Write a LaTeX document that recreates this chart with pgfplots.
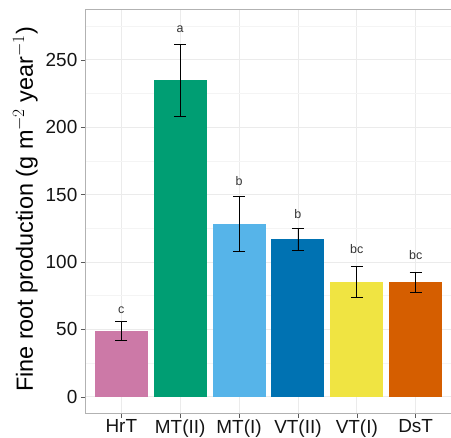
\documentclass[border=0pt]{standalone}
\usepackage{fontspec}
\setmainfont{Liberation Sans}
\usepackage{pgfplots}
\pgfplotsset{compat=1.18}
\definecolor{cHrT}{HTML}{CC79A7}
\definecolor{cMTII}{HTML}{009E73}
\definecolor{cMTI}{HTML}{56B4E9}
\definecolor{cVTII}{HTML}{0072B2}
\definecolor{cVTI}{HTML}{F0E442}
\definecolor{cDsT}{HTML}{D55E00}
\definecolor{gridmaj}{HTML}{EBEBEB}
\definecolor{gridmin}{HTML}{F4F4F4}
\begin{document}
\begin{tikzpicture}
\begin{axis}[
  at={(0,0)}, anchor=south west,
  scale only axis, width=365bp, height=403bp,
  xmin=0.4, xmax=6.6, ymin=-12, ymax=287,
  xtick={1,2,3,4,5,6},
  xticklabels={HrT,MT(II),MT(I),VT(II),VT(I),DsT},
  ytick={0,50,100,150,200,250},
  minor ytick={25,75,125,175,225,275},
  xtick pos=bottom, ytick pos=left,
  grid=both,
  major grid style={gridmaj, line width=0.8bp},
  minor grid style={gridmin, line width=0.6bp},
  tick align=outside,
  major tick length=5bp,
  minor tick length=0pt,
  tick style={gray!70!black, line width=0.6bp},
  axis line style={gray!60, line width=1bp},
  /pgf/number format/assume math mode=true,
  tick label style={font=\fontsize{19}{22}\selectfont, text=black!92},
  yticklabel style={inner xsep=3.5bp},
  xticklabel style={inner ysep=1.5bp},
  ylabel={Fine root production (g m$^{-2}$ year$^{-1}$)},
  ylabel style={at={(axis description cs:0,0.5)}, anchor=base, yshift=53bp, xshift=2bp,
    font=\fontsize{23.5}{26}\selectfont, text=black},
  ybar, bar shift=0pt, bar width=0.9,
  error bars/y dir=both, error bars/y explicit,
  error bars/error mark options={rotate=90, mark size=6bp, line width=0.8bp, black},
  error bars/error bar style={line width=0.8bp, black},
]
\addplot[fill=cHrT, draw=none] coordinates {(1,48.7) +- (0,7.0)};
\addplot[fill=cMTII, draw=none] coordinates {(2,234.7) +- (0,26.8)};
\addplot[fill=cMTI, draw=none] coordinates {(3,128.3) +- (0,20.5)};
\addplot[fill=cVTII, draw=none] coordinates {(4,116.8) +- (0,8.3)};
\addplot[fill=cVTI, draw=none] coordinates {(5,85.3) +- (0,11.8)};
\addplot[fill=cDsT, draw=none] coordinates {(6,84.9) +- (0,7.5)};
\addplot[draw=none, mark=none, sharp plot, nodes near coords, point meta=explicit symbolic,
  every node near coord/.style={anchor=center, font=\fontsize{12.5}{14}\selectfont, text=black!80}]
  coordinates {(1,64.3) [c] (2,272.5) [a] (3,160) [b] (4,135.3) [b] (5,109.3) [bc] (6,104.9) [bc]};
\end{axis}
\pgfresetboundingbox
\useasboundingbox (-86bp,-25bp) rectangle (365bp,413bp);
\end{tikzpicture}
\end{document}
